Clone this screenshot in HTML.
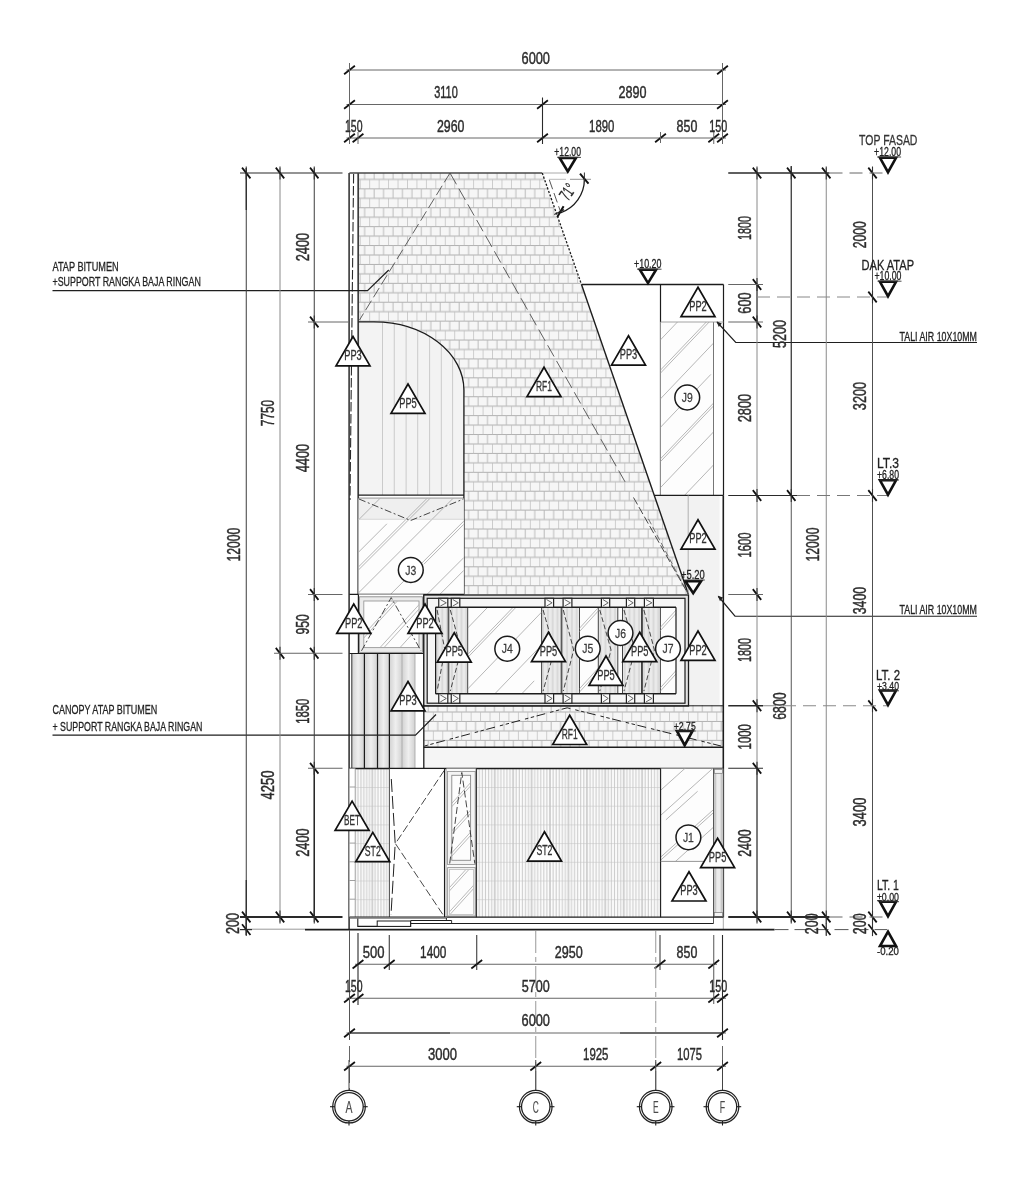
<!DOCTYPE html>
<html><head><meta charset="utf-8"><title>Tampak</title>
<style>
html,body{margin:0;padding:0;background:#fff;}
svg{display:block;}
text{font-family:"Liberation Sans",sans-serif;}
</style></head><body>
<svg width="1024" height="1196" viewBox="0 0 1024 1196">
<rect width="1024" height="1196" fill="#ffffff"/>
<g opacity="0.999">
<defs>
<pattern id="brick" x="482.6" y="179.4" width="9.449" height="18.898" patternUnits="userSpaceOnUse">
<rect width="9.449" height="18.898" fill="#f6f6f6"/>
<path d="M0,0.0H9.449M0,9.449H9.449M0,18.898H9.449" stroke="#b0b0b0" stroke-width="1" fill="none"/>
<path d="M0.2,0V9.449M4.92,9.449V18.898" stroke="#bcbcbc" stroke-width="1" fill="none"/>
</pattern>
<pattern id="brick2" x="442.3" y="712.0" width="9.449" height="18.898" patternUnits="userSpaceOnUse">
<rect width="9.449" height="18.898" fill="#f6f6f6"/>
<path d="M0,0.0H9.449M0,9.449H9.449M0,18.898H9.449" stroke="#b0b0b0" stroke-width="1" fill="none"/>
<path d="M0.2,0V9.449M4.92,9.449V18.898" stroke="#bcbcbc" stroke-width="1" fill="none"/>
</pattern>
<pattern id="stone" x="476.3" y="768.3" width="18.43" height="18.7" patternUnits="userSpaceOnUse">
<rect width="18.43" height="18.7" fill="#fcfcfc"/>
<path d="M3.072,0V18.7M6.143,0V18.7M9.215,0V18.7M12.287,0V18.7M15.358,0V18.7" stroke="#cdcdcd" stroke-width="1.1" fill="none"/>
<path d="M0,0V18.7M18.43,0V18.7" stroke="#b2b2b2" stroke-width="1.1" fill="none"/>
<path d="M0,0H18.43" stroke="#c2c2c2" stroke-width="1" fill="none"/>
</pattern>
<pattern id="stoneL" x="355.2" y="768.3" width="17.15" height="18.7" patternUnits="userSpaceOnUse">
<rect width="17.15" height="18.7" fill="#fcfcfc"/>
<path d="M2.858,0V18.7M5.717,0V18.7M8.575,0V18.7M11.433,0V18.7M14.292,0V18.7" stroke="#cdcdcd" stroke-width="1.1" fill="none"/>
<path d="M0,0V18.7M17.15,0V18.7" stroke="#b2b2b2" stroke-width="1.1" fill="none"/>
<path d="M0,0H17.15" stroke="#c2c2c2" stroke-width="1" fill="none"/>
</pattern>
<pattern id="slat" x="435.6" y="0" width="4.8" height="10" patternUnits="userSpaceOnUse">
<rect width="4.8" height="10" fill="#f3f3f3"/>
<rect x="0.6" width="2.3" height="10" fill="#d9d9d9"/>
<path d="M3.9,0V10" stroke="#dcdcdc" stroke-width="0.7" fill="none"/>
</pattern>
<clipPath id="cJ3"><rect x="358.5" y="520" width="105.3" height="74.5"/></clipPath>
<clipPath id="cJ9"><rect x="660.5" y="322" width="53" height="173"/></clipPath>
<clipPath id="cJ1"><rect x="660.6" y="768.4" width="52.9" height="93"/></clipPath>
<clipPath id="cJ4"><rect x="467.7" y="607.3" width="73.9" height="86.6"/></clipPath>
<clipPath id="cWin"><rect x="428" y="598.5" width="257" height="104"/></clipPath>
</defs>
<path d="M358.5,173 H542.25 L688.5,594.6 H463.9 V389.9 A90,68 0 0 0 373.9,321.9 H358.4 Z" fill="url(#brick)" stroke="none"/>
<path d="M358.4,321.9 H373.9 A90,68 0 0 1 463.9,389.9 V495 H358.4 Z" fill="#f3f3f3" stroke="none"/>
<line x1="382.50" y1="322.21" x2="382.50" y2="495.00" stroke="#cacaca" stroke-width="1.0"/>
<line x1="394.25" y1="323.66" x2="394.25" y2="495.00" stroke="#cacaca" stroke-width="1.0"/>
<line x1="406.10" y1="326.40" x2="406.10" y2="495.00" stroke="#cacaca" stroke-width="1.0"/>
<line x1="417.70" y1="330.50" x2="417.70" y2="495.00" stroke="#cacaca" stroke-width="1.0"/>
<line x1="429.60" y1="336.49" x2="429.60" y2="495.00" stroke="#cacaca" stroke-width="1.0"/>
<line x1="441.30" y1="344.84" x2="441.30" y2="495.00" stroke="#cacaca" stroke-width="1.0"/>
<line x1="452.60" y1="356.91" x2="452.60" y2="495.00" stroke="#cacaca" stroke-width="1.0"/>
<rect x="423.75" y="705.00" width="299.75" height="42.20" fill="url(#brick2)"/>
<rect x="423.75" y="747.20" width="298.25" height="21.20" fill="#f5f5f5"/>
<path d="M654.3,495.4 H719.6 V705 H688.5 V594.6 Z" fill="#f2f2f2" stroke="none"/>
<rect x="355.20" y="768.40" width="34.30" height="148.80" fill="url(#stoneL)"/>
<rect x="476.30" y="768.40" width="184.30" height="148.80" fill="url(#stone)"/>
<rect x="349.40" y="173.00" width="9.00" height="421.40" fill="#ffffff"/>
<line x1="349.10" y1="173.00" x2="349.10" y2="930.00" stroke="#2a2a2a" stroke-width="1.5"/>
<line x1="358.20" y1="173.00" x2="358.20" y2="594.40" stroke="#3c3c3c" stroke-width="1.7"/>
<line x1="353.60" y1="174.00" x2="350.00" y2="500.00" stroke="#2a2a2a" stroke-width="1.1" stroke-dasharray="9.5 2.5"/>
<line x1="349.40" y1="173.00" x2="542.25" y2="173.00" stroke="#484848" stroke-width="1.3"/>
<line x1="543.00" y1="173.00" x2="567.00" y2="173.00" stroke="#aaa" stroke-width="1.0"/>
<line x1="542.25" y1="173.00" x2="581.50" y2="284.50" stroke="#1c1c1c" stroke-width="1.3" stroke-dasharray="2.2 1.6"/>
<line x1="581.50" y1="284.50" x2="688.50" y2="594.60" stroke="#1c1c1c" stroke-width="1.4"/>
<line x1="549.30" y1="179.80" x2="560.40" y2="211.30" stroke="#444" stroke-width="0.9" stroke-dasharray="10 4"/>
<path d="M358.4,321.9 H373.9 A90,68 0 0 1 463.9,389.9 V594.4" fill="none" stroke="#1c1c1c" stroke-width="1.3"/>
<line x1="358.40" y1="495.10" x2="463.90" y2="495.10" stroke="#1c1c1c" stroke-width="1.3"/>
<line x1="358.40" y1="498.30" x2="463.90" y2="498.30" stroke="#1c1c1c" stroke-width="1.0"/>
<rect x="358.40" y="498.30" width="105.50" height="21.30" fill="#efefef"/>
<rect x="358.40" y="519.30" width="105.50" height="75.10" fill="#fdfdfd"/>
<clipPath id="cJ3b"><rect x="358.5" y="498.5" width="105.3" height="96"/></clipPath>
<g clip-path="url(#cJ3b)">
<line x1="358.40" y1="520.00" x2="463.90" y2="414.50" stroke="#a4a4a4" stroke-width="0.8"/>
<line x1="358.40" y1="552.30" x2="386.88" y2="523.81" stroke="#a4a4a4" stroke-width="0.8"/>
<line x1="358.40" y1="567.00" x2="463.90" y2="461.50" stroke="#a4a4a4" stroke-width="0.8"/>
<line x1="358.40" y1="570.00" x2="463.90" y2="464.50" stroke="#a4a4a4" stroke-width="0.8"/>
<line x1="358.40" y1="593.00" x2="463.90" y2="487.50" stroke="#a4a4a4" stroke-width="0.8"/>
<line x1="358.40" y1="626.50" x2="463.90" y2="521.00" stroke="#a4a4a4" stroke-width="0.8"/>
<line x1="423.81" y1="564.29" x2="463.90" y2="524.20" stroke="#a4a4a4" stroke-width="0.8"/>
<line x1="358.40" y1="663.00" x2="463.90" y2="557.50" stroke="#a4a4a4" stroke-width="0.8"/>
<line x1="358.40" y1="675.80" x2="463.90" y2="570.30" stroke="#a4a4a4" stroke-width="0.8"/>
</g>
<line x1="358.40" y1="519.30" x2="463.90" y2="519.30" stroke="#d0d0d0" stroke-width="0.8"/>
<polyline points="359.00,499.00 410.70,520.50 463.50,499.00" fill="none" stroke="#333" stroke-width="0.9" stroke-linejoin="miter" stroke-dasharray="7 2.5 2 2.5"/>
<line x1="349.40" y1="594.40" x2="463.90" y2="594.40" stroke="#1c1c1c" stroke-width="1.2"/>
<rect x="358.40" y="594.40" width="65.40" height="59.10" fill="#ffffff"/>
<line x1="358.40" y1="594.40" x2="358.40" y2="653.50" stroke="#1c1c1c" stroke-width="1.2"/>
<rect x="359.40" y="596.80" width="63.00" height="55.60" fill="#ebebeb" stroke="#888" stroke-width="0.9"/>
<rect x="363.80" y="601.00" width="55.20" height="46.60" fill="#fdfdfd" stroke="#999" stroke-width="0.9"/>
<clipPath id="cSm"><rect x="364" y="601.2" width="54.8" height="46.2"/></clipPath>
<g clip-path="url(#cSm)">
<line x1="352.00" y1="647.60" x2="394.36" y2="601.00" stroke="#a8a8a8" stroke-width="0.8"/>
<line x1="355.00" y1="647.60" x2="397.36" y2="601.00" stroke="#a8a8a8" stroke-width="0.8"/>
<line x1="380.00" y1="647.60" x2="422.36" y2="601.00" stroke="#a8a8a8" stroke-width="0.8"/>
<line x1="384.00" y1="647.60" x2="426.36" y2="601.00" stroke="#a8a8a8" stroke-width="0.8"/>
<line x1="400.00" y1="647.60" x2="421.18" y2="624.30" stroke="#a8a8a8" stroke-width="0.8"/>
</g>
<polyline points="361.50,650.80 391.20,597.60 421.00,650.80" fill="none" stroke="#333" stroke-width="0.9" stroke-linejoin="miter" stroke-dasharray="7 2.5 2 2.5"/>
<linearGradient id="sg" x1="0" x2="1" y1="0" y2="0"><stop offset="0" stop-color="#d2d2d2"/><stop offset="0.5" stop-color="#efefef"/><stop offset="1" stop-color="#d2d2d2"/></linearGradient>
<rect x="351.8" y="653.5" width="12.60" height="115" fill="url(#sg)"/>
<rect x="364.4" y="653.5" width="13.10" height="115" fill="url(#sg)"/>
<rect x="377.5" y="653.5" width="11.90" height="115" fill="url(#sg)"/>
<rect x="389.4" y="653.5" width="12.60" height="115" fill="url(#sg)"/>
<rect x="402.0" y="653.5" width="13.00" height="115" fill="url(#sg)"/>
<line x1="351.80" y1="653.50" x2="351.80" y2="768.50" stroke="#1c1c1c" stroke-width="0.9"/>
<line x1="364.40" y1="653.50" x2="364.40" y2="768.50" stroke="#1c1c1c" stroke-width="1.2"/>
<line x1="377.50" y1="653.50" x2="377.50" y2="768.50" stroke="#1c1c1c" stroke-width="1.2"/>
<line x1="389.40" y1="653.50" x2="389.40" y2="768.50" stroke="#1c1c1c" stroke-width="1.2"/>
<line x1="402.00" y1="653.50" x2="402.00" y2="768.50" stroke="#aaa" stroke-width="0.9"/>
<line x1="415.00" y1="653.50" x2="415.00" y2="768.50" stroke="#aaa" stroke-width="0.9"/>
<line x1="349.40" y1="653.50" x2="423.80" y2="653.50" stroke="#1c1c1c" stroke-width="1.2"/>
<line x1="423.80" y1="594.60" x2="423.80" y2="768.50" stroke="#1c1c1c" stroke-width="1.3"/>
<line x1="349.40" y1="768.50" x2="723.50" y2="768.50" stroke="#1c1c1c" stroke-width="1.4"/>
<rect x="423.80" y="595.00" width="264.70" height="111.00" fill="#e4e4e4" stroke="#1c1c1c" stroke-width="1.3"/>
<rect x="427.20" y="598.30" width="257.80" height="104.90" fill="#f6f6f6" stroke="#1c1c1c" stroke-width="1.2"/>
<rect x="435.60" y="607.30" width="240.40" height="86.40" fill="#fdfdfd"/>
<rect x="435.6" y="607.3" width="12.60" height="86.4" fill="url(#slat)"/>
<line x1="435.60" y1="607.30" x2="435.60" y2="693.70" stroke="#444" stroke-width="1.0"/>
<line x1="448.20" y1="607.30" x2="448.20" y2="693.70" stroke="#444" stroke-width="1.0"/>
<rect x="448.8" y="607.3" width="18.90" height="86.4" fill="url(#slat)"/>
<line x1="448.80" y1="607.30" x2="448.80" y2="693.70" stroke="#444" stroke-width="1.0"/>
<line x1="467.70" y1="607.30" x2="467.70" y2="693.70" stroke="#444" stroke-width="1.0"/>
<rect x="541.6" y="607.3" width="19.60" height="86.4" fill="url(#slat)"/>
<line x1="541.60" y1="607.30" x2="541.60" y2="693.70" stroke="#444" stroke-width="1.0"/>
<line x1="561.20" y1="607.30" x2="561.20" y2="693.70" stroke="#444" stroke-width="1.0"/>
<rect x="561.8" y="607.3" width="17.70" height="86.4" fill="url(#slat)"/>
<line x1="561.80" y1="607.30" x2="561.80" y2="693.70" stroke="#444" stroke-width="1.0"/>
<line x1="579.50" y1="607.30" x2="579.50" y2="693.70" stroke="#444" stroke-width="1.0"/>
<rect x="598.3" y="607.3" width="19.50" height="86.4" fill="url(#slat)"/>
<line x1="598.30" y1="607.30" x2="598.30" y2="693.70" stroke="#444" stroke-width="1.0"/>
<line x1="617.80" y1="607.30" x2="617.80" y2="693.70" stroke="#444" stroke-width="1.0"/>
<rect x="622.5" y="607.3" width="19.00" height="86.4" fill="url(#slat)"/>
<line x1="622.50" y1="607.30" x2="622.50" y2="693.70" stroke="#444" stroke-width="1.0"/>
<line x1="641.50" y1="607.30" x2="641.50" y2="693.70" stroke="#444" stroke-width="1.0"/>
<rect x="642.4" y="607.3" width="18.00" height="86.4" fill="url(#slat)"/>
<line x1="642.40" y1="607.30" x2="642.40" y2="693.70" stroke="#444" stroke-width="1.0"/>
<line x1="660.40" y1="607.30" x2="660.40" y2="693.70" stroke="#444" stroke-width="1.0"/>
<clipPath id="cG1"><rect x="467.7" y="607.3" width="73.9" height="86.4"/></clipPath>
<g clip-path="url(#cG1)">
<line x1="467.70" y1="628.00" x2="489.87" y2="604.94" stroke="#a4a4a4" stroke-width="0.8"/>
<line x1="467.70" y1="654.50" x2="541.60" y2="577.64" stroke="#a4a4a4" stroke-width="0.8"/>
<line x1="467.70" y1="657.50" x2="541.60" y2="580.64" stroke="#a4a4a4" stroke-width="0.8"/>
<line x1="467.70" y1="689.00" x2="541.60" y2="612.14" stroke="#a4a4a4" stroke-width="0.8"/>
<line x1="489.87" y1="698.94" x2="541.60" y2="645.14" stroke="#a4a4a4" stroke-width="0.8"/>
<line x1="504.65" y1="711.57" x2="534.21" y2="680.83" stroke="#a4a4a4" stroke-width="0.8"/>
</g>
<clipPath id="cG2"><rect x="579.5" y="607.3" width="18.8" height="86.4"/></clipPath>
<g clip-path="url(#cG2)">
<line x1="520.00" y1="693.70" x2="598.55" y2="607.30" stroke="#a8a8a8" stroke-width="0.8"/>
<line x1="523.00" y1="693.70" x2="601.55" y2="607.30" stroke="#a8a8a8" stroke-width="0.8"/>
<line x1="575.00" y1="693.70" x2="653.55" y2="607.30" stroke="#a8a8a8" stroke-width="0.8"/>
<line x1="578.00" y1="693.70" x2="656.55" y2="607.30" stroke="#a8a8a8" stroke-width="0.8"/>
</g>
<clipPath id="cG3"><rect x="660.4" y="607.3" width="15.6" height="86.4"/></clipPath>
<g clip-path="url(#cG3)">
<line x1="600.00" y1="693.70" x2="678.55" y2="607.30" stroke="#a8a8a8" stroke-width="0.8"/>
<line x1="603.00" y1="693.70" x2="681.55" y2="607.30" stroke="#a8a8a8" stroke-width="0.8"/>
<line x1="655.00" y1="693.70" x2="733.55" y2="607.30" stroke="#a8a8a8" stroke-width="0.8"/>
<line x1="658.00" y1="693.70" x2="736.55" y2="607.30" stroke="#a8a8a8" stroke-width="0.8"/>
</g>
<line x1="435.60" y1="607.30" x2="676.00" y2="607.30" stroke="#1c1c1c" stroke-width="1.4"/>
<line x1="435.60" y1="693.70" x2="676.00" y2="693.70" stroke="#1c1c1c" stroke-width="1.4"/>
<line x1="676.00" y1="607.30" x2="676.00" y2="693.70" stroke="#1c1c1c" stroke-width="1.2"/>
<line x1="435.60" y1="607.30" x2="435.60" y2="693.70" stroke="#1c1c1c" stroke-width="1.2"/>
<rect x="438.75" y="598.30" width="9.05" height="9.00" fill="#fafafa" stroke="#222" stroke-width="1.2"/>
<polyline points="440.25,599.50 446.30,602.80 440.25,606.10" fill="none" stroke="#555" stroke-width="0.9" stroke-linejoin="miter"/>
<rect x="438.75" y="693.70" width="9.05" height="9.50" fill="#fafafa" stroke="#222" stroke-width="1.2"/>
<polyline points="440.25,694.90 446.30,698.45 440.25,702.00" fill="none" stroke="#555" stroke-width="0.9" stroke-linejoin="miter"/>
<rect x="451.25" y="598.30" width="8.55" height="9.00" fill="#fafafa" stroke="#222" stroke-width="1.2"/>
<polyline points="452.75,599.50 458.30,602.80 452.75,606.10" fill="none" stroke="#555" stroke-width="0.9" stroke-linejoin="miter"/>
<rect x="451.25" y="693.70" width="8.55" height="9.50" fill="#fafafa" stroke="#222" stroke-width="1.2"/>
<polyline points="452.75,694.90 458.30,698.45 452.75,702.00" fill="none" stroke="#555" stroke-width="0.9" stroke-linejoin="miter"/>
<rect x="545.00" y="598.30" width="8.60" height="9.00" fill="#fafafa" stroke="#222" stroke-width="1.2"/>
<polyline points="546.50,599.50 552.10,602.80 546.50,606.10" fill="none" stroke="#555" stroke-width="0.9" stroke-linejoin="miter"/>
<rect x="545.00" y="693.70" width="8.60" height="9.50" fill="#fafafa" stroke="#222" stroke-width="1.2"/>
<polyline points="546.50,694.90 552.10,698.45 546.50,702.00" fill="none" stroke="#555" stroke-width="0.9" stroke-linejoin="miter"/>
<rect x="563.10" y="598.30" width="8.80" height="9.00" fill="#fafafa" stroke="#222" stroke-width="1.2"/>
<polyline points="564.60,599.50 570.40,602.80 564.60,606.10" fill="none" stroke="#555" stroke-width="0.9" stroke-linejoin="miter"/>
<rect x="563.10" y="693.70" width="8.80" height="9.50" fill="#fafafa" stroke="#222" stroke-width="1.2"/>
<polyline points="564.60,694.90 570.40,698.45 564.60,702.00" fill="none" stroke="#555" stroke-width="0.9" stroke-linejoin="miter"/>
<rect x="601.40" y="598.30" width="8.30" height="9.00" fill="#fafafa" stroke="#222" stroke-width="1.2"/>
<polyline points="602.90,599.50 608.20,602.80 602.90,606.10" fill="none" stroke="#555" stroke-width="0.9" stroke-linejoin="miter"/>
<rect x="601.40" y="693.70" width="8.30" height="9.50" fill="#fafafa" stroke="#222" stroke-width="1.2"/>
<polyline points="602.90,694.90 608.20,698.45 602.90,702.00" fill="none" stroke="#555" stroke-width="0.9" stroke-linejoin="miter"/>
<rect x="626.40" y="598.30" width="8.30" height="9.00" fill="#fafafa" stroke="#222" stroke-width="1.2"/>
<polyline points="627.90,599.50 633.20,602.80 627.90,606.10" fill="none" stroke="#555" stroke-width="0.9" stroke-linejoin="miter"/>
<rect x="626.40" y="693.70" width="8.30" height="9.50" fill="#fafafa" stroke="#222" stroke-width="1.2"/>
<polyline points="627.90,694.90 633.20,698.45 627.90,702.00" fill="none" stroke="#555" stroke-width="0.9" stroke-linejoin="miter"/>
<rect x="644.40" y="598.30" width="9.00" height="9.00" fill="#fafafa" stroke="#222" stroke-width="1.2"/>
<polyline points="645.90,599.50 651.90,602.80 645.90,606.10" fill="none" stroke="#555" stroke-width="0.9" stroke-linejoin="miter"/>
<rect x="644.40" y="693.70" width="9.00" height="9.50" fill="#fafafa" stroke="#222" stroke-width="1.2"/>
<polyline points="645.90,694.90 651.90,698.45 645.90,702.00" fill="none" stroke="#555" stroke-width="0.9" stroke-linejoin="miter"/>
<polyline points="437.10,610.00 444.90,650.00 437.10,691.00" fill="none" stroke="#333" stroke-width="0.9" stroke-linejoin="miter" stroke-dasharray="5 2.5"/>
<polyline points="450.30,610.00 461.25,650.00 450.30,691.00" fill="none" stroke="#333" stroke-width="0.9" stroke-linejoin="miter" stroke-dasharray="5 2.5"/>
<polyline points="543.10,610.00 554.40,650.00 543.10,691.00" fill="none" stroke="#333" stroke-width="0.9" stroke-linejoin="miter" stroke-dasharray="5 2.5"/>
<polyline points="563.30,610.00 573.65,650.00 563.30,691.00" fill="none" stroke="#333" stroke-width="0.9" stroke-linejoin="miter" stroke-dasharray="5 2.5"/>
<polyline points="599.80,610.00 611.05,650.00 599.80,691.00" fill="none" stroke="#333" stroke-width="0.9" stroke-linejoin="miter" stroke-dasharray="5 2.5"/>
<polyline points="624.00,610.00 635.00,650.00 624.00,691.00" fill="none" stroke="#333" stroke-width="0.9" stroke-linejoin="miter" stroke-dasharray="5 2.5"/>
<polyline points="643.90,610.00 654.40,650.00 643.90,691.00" fill="none" stroke="#333" stroke-width="0.9" stroke-linejoin="miter" stroke-dasharray="5 2.5"/>
<line x1="581.50" y1="284.50" x2="723.50" y2="284.50" stroke="#1c1c1c" stroke-width="1.3"/>
<line x1="723.50" y1="284.50" x2="723.50" y2="495.40" stroke="#1c1c1c" stroke-width="1.2"/>
<line x1="660.50" y1="284.50" x2="660.50" y2="495.40" stroke="#1c1c1c" stroke-width="1.2"/>
<rect x="660.50" y="322.00" width="53.00" height="173.40" fill="#fdfdfd"/>
<g clip-path="url(#cJ9)">
<line x1="660.30" y1="340.00" x2="713.50" y2="284.14" stroke="#a4a4a4" stroke-width="0.8"/>
<line x1="660.30" y1="370.30" x2="713.50" y2="314.44" stroke="#a4a4a4" stroke-width="0.8"/>
<line x1="660.30" y1="373.30" x2="713.50" y2="317.44" stroke="#a4a4a4" stroke-width="0.8"/>
<line x1="660.30" y1="399.00" x2="713.50" y2="343.14" stroke="#a4a4a4" stroke-width="0.8"/>
<line x1="660.30" y1="427.50" x2="710.84" y2="374.43" stroke="#a4a4a4" stroke-width="0.8"/>
<line x1="660.30" y1="459.00" x2="713.50" y2="403.14" stroke="#a4a4a4" stroke-width="0.8"/>
<line x1="660.30" y1="461.80" x2="713.50" y2="405.94" stroke="#a4a4a4" stroke-width="0.8"/>
<line x1="660.30" y1="487.80" x2="713.50" y2="431.94" stroke="#a4a4a4" stroke-width="0.8"/>
<line x1="660.30" y1="520.80" x2="713.50" y2="464.94" stroke="#a4a4a4" stroke-width="0.8"/>
</g>
<line x1="713.50" y1="322.00" x2="713.50" y2="495.40" stroke="#666" stroke-width="0.9"/>
<line x1="660.50" y1="322.00" x2="723.50" y2="322.00" stroke="#999" stroke-width="0.9"/>
<line x1="654.30" y1="495.40" x2="723.50" y2="495.40" stroke="#1c1c1c" stroke-width="1.3"/>
<line x1="688.20" y1="495.40" x2="688.20" y2="594.60" stroke="#aaa" stroke-width="0.9"/>
<line x1="723.30" y1="495.40" x2="723.30" y2="917.60" stroke="#1c1c1c" stroke-width="1.6"/>
<line x1="723.30" y1="917.60" x2="723.30" y2="930.00" stroke="#aaa" stroke-width="1.0"/>
<line x1="423.80" y1="705.80" x2="723.50" y2="705.80" stroke="#1c1c1c" stroke-width="1.0"/>
<line x1="423.80" y1="747.20" x2="723.50" y2="747.20" stroke="#1c1c1c" stroke-width="1.4"/>
<polyline points="424.50,746.00 567.20,707.80 721.00,746.00" fill="none" stroke="#222" stroke-width="1.0" stroke-linejoin="miter" stroke-dasharray="3.5 2.5 3.5 2.5 9 5"/>
<rect x="349.40" y="768.50" width="5.80" height="148.70" fill="#ffffff"/>
<line x1="355.20" y1="768.50" x2="355.20" y2="917.20" stroke="#999" stroke-width="0.8"/>
<line x1="349.40" y1="787.00" x2="355.20" y2="787.00" stroke="#888" stroke-width="0.8"/>
<line x1="349.40" y1="805.70" x2="355.20" y2="805.70" stroke="#888" stroke-width="0.8"/>
<line x1="349.40" y1="824.40" x2="355.20" y2="824.40" stroke="#888" stroke-width="0.8"/>
<line x1="349.40" y1="843.10" x2="355.20" y2="843.10" stroke="#888" stroke-width="0.8"/>
<line x1="349.40" y1="861.80" x2="355.20" y2="861.80" stroke="#888" stroke-width="0.8"/>
<line x1="349.40" y1="880.50" x2="355.20" y2="880.50" stroke="#888" stroke-width="0.8"/>
<line x1="349.40" y1="899.20" x2="355.20" y2="899.20" stroke="#888" stroke-width="0.8"/>
<line x1="389.50" y1="768.50" x2="389.50" y2="917.20" stroke="#4a4a4a" stroke-width="1.1"/>
<rect x="389.90" y="769.10" width="54.60" height="148.10" fill="#ffffff"/>
<polyline points="391.30,779.00 395.20,843.60 391.00,915.00" fill="none" stroke="#222" stroke-width="1.0" stroke-linejoin="miter" stroke-dasharray="13 4"/>
<polyline points="444.20,770.50 395.40,843.60 444.20,916.50" fill="none" stroke="#333" stroke-width="0.9" stroke-linejoin="miter" stroke-dasharray="8 3"/>
<line x1="444.50" y1="768.50" x2="444.50" y2="917.20" stroke="#1c1c1c" stroke-width="1.1"/>
<line x1="446.30" y1="768.50" x2="446.30" y2="917.20" stroke="#1c1c1c" stroke-width="0.9"/>
<rect x="446.30" y="768.50" width="30.00" height="148.70" fill="#fafafa"/>
<rect x="447.50" y="771.50" width="27.70" height="93.00" fill="#f4f4f4" stroke="#999" stroke-width="0.9"/>
<rect x="451.80" y="775.30" width="18.80" height="85.00" fill="#fdfdfd" stroke="#888" stroke-width="0.9"/>
<clipPath id="cN1"><rect x="452" y="775.5" width="18.4" height="84.6"/></clipPath>
<g clip-path="url(#cN1)">
<line x1="400.00" y1="860.30" x2="477.27" y2="775.30" stroke="#a8a8a8" stroke-width="0.8"/>
<line x1="403.00" y1="860.30" x2="480.27" y2="775.30" stroke="#a8a8a8" stroke-width="0.8"/>
<line x1="425.00" y1="860.30" x2="502.27" y2="775.30" stroke="#a8a8a8" stroke-width="0.8"/>
<line x1="428.00" y1="860.30" x2="505.27" y2="775.30" stroke="#a8a8a8" stroke-width="0.8"/>
<line x1="445.00" y1="860.30" x2="522.27" y2="775.30" stroke="#a8a8a8" stroke-width="0.8"/>
<line x1="448.00" y1="860.30" x2="525.27" y2="775.30" stroke="#a8a8a8" stroke-width="0.8"/>
</g>
<polyline points="449.70,863.50 461.80,772.50 474.80,863.50" fill="none" stroke="#333" stroke-width="0.9" stroke-linejoin="miter" stroke-dasharray="7 3"/>
<rect x="447.60" y="867.60" width="27.60" height="48.40" fill="#f4f4f4" stroke="#999" stroke-width="0.9"/>
<rect x="449.50" y="869.50" width="24.00" height="45.00" fill="#fdfdfd" stroke="#bbb" stroke-width="0.8"/>
<clipPath id="cN2"><rect x="449.7" y="869.7" width="23.6" height="44.6"/></clipPath>
<g clip-path="url(#cN2)">
<line x1="425.00" y1="914.50" x2="465.91" y2="869.50" stroke="#a8a8a8" stroke-width="0.8"/>
<line x1="428.00" y1="914.50" x2="468.91" y2="869.50" stroke="#a8a8a8" stroke-width="0.8"/>
<line x1="447.00" y1="914.50" x2="487.91" y2="869.50" stroke="#a8a8a8" stroke-width="0.8"/>
<line x1="450.00" y1="914.50" x2="490.91" y2="869.50" stroke="#a8a8a8" stroke-width="0.8"/>
</g>
<line x1="476.30" y1="768.50" x2="476.30" y2="917.20" stroke="#1c1c1c" stroke-width="1.1"/>
<rect x="660.60" y="768.50" width="52.90" height="92.90" fill="#fdfdfd"/>
<g clip-path="url(#cJ1)">
<line x1="660.60" y1="790.30" x2="687.05" y2="766.50" stroke="#a4a4a4" stroke-width="0.8"/>
<line x1="660.60" y1="815.40" x2="713.50" y2="767.79" stroke="#a4a4a4" stroke-width="0.8"/>
<line x1="665.89" y1="819.84" x2="697.63" y2="791.27" stroke="#a4a4a4" stroke-width="0.8"/>
<line x1="660.60" y1="857.20" x2="713.50" y2="809.59" stroke="#a4a4a4" stroke-width="0.8"/>
<line x1="660.60" y1="860.20" x2="713.50" y2="812.59" stroke="#a4a4a4" stroke-width="0.8"/>
<line x1="660.60" y1="874.80" x2="713.50" y2="827.19" stroke="#a4a4a4" stroke-width="0.8"/>
<line x1="660.60" y1="905.00" x2="713.50" y2="857.39" stroke="#a4a4a4" stroke-width="0.8"/>
</g>
<rect x="660.60" y="861.40" width="52.90" height="55.80" fill="#ffffff"/>
<line x1="660.60" y1="768.50" x2="660.60" y2="917.20" stroke="#1c1c1c" stroke-width="1.1"/>
<line x1="660.60" y1="861.40" x2="713.50" y2="861.40" stroke="#888" stroke-width="0.9"/>
<rect x="713.50" y="768.50" width="9.80" height="148.70" fill="#c8c8c8"/>
<rect x="716.30" y="773.50" width="4.30" height="138.80" fill="#ececec"/>
<line x1="713.50" y1="768.50" x2="713.50" y2="923.50" stroke="#555" stroke-width="1.0"/>
<rect x="714.30" y="769.30" width="8.20" height="4.00" fill="#f4f4f4" stroke="#777" stroke-width="0.7"/>
<rect x="714.30" y="912.50" width="8.20" height="4.00" fill="#f4f4f4" stroke="#777" stroke-width="0.7"/>
<line x1="349.40" y1="917.20" x2="723.30" y2="917.20" stroke="#1c1c1c" stroke-width="1.2"/>
<polyline points="357.80,917.60 357.80,926.40 410.60,926.40 410.60,921.00" fill="none" stroke="#1c1c1c" stroke-width="1.1" stroke-linejoin="miter"/>
<rect x="377.20" y="921.00" width="33.40" height="5.40" fill="#ffffff" stroke="#1c1c1c" stroke-width="1.0"/>
<line x1="349.80" y1="917.90" x2="447.00" y2="917.90" stroke="#777" stroke-width="1.6"/>
<line x1="410.60" y1="920.50" x2="451.60" y2="920.50" stroke="#1c1c1c" stroke-width="1.0"/>
<line x1="446.40" y1="918.00" x2="446.40" y2="921.00" stroke="#1c1c1c" stroke-width="0.9"/>
<line x1="451.60" y1="920.50" x2="451.60" y2="923.50" stroke="#1c1c1c" stroke-width="0.9"/>
<line x1="410.60" y1="923.50" x2="713.50" y2="923.50" stroke="#1c1c1c" stroke-width="1.0"/>
<line x1="305.00" y1="929.60" x2="774.50" y2="929.60" stroke="#1c1c1c" stroke-width="1.8"/>
<line x1="774.50" y1="929.60" x2="887.00" y2="929.60" stroke="#555" stroke-width="1.0" stroke-dasharray="14 6"/>
<line x1="450.00" y1="173.00" x2="359.50" y2="320.00" stroke="#444" stroke-width="0.85" stroke-dasharray="11 4"/>
<line x1="450.00" y1="173.00" x2="626.00" y2="483.50" stroke="#444" stroke-width="0.85" stroke-dasharray="13 5"/>
<line x1="633.50" y1="497.50" x2="688.30" y2="594.30" stroke="#333" stroke-width="0.9" stroke-dasharray="8 3"/>
<line x1="648.50" y1="519.00" x2="688.30" y2="594.30" stroke="#555" stroke-width="0.8" stroke-dasharray="6 3"/>
<polyline points="52.50,290.60 367.50,290.60 388.75,270.00" fill="none" stroke="#1f1f1f" stroke-width="1.2" stroke-linejoin="miter"/>
<polyline points="52.50,735.20 415.50,735.20 436.00,714.50" fill="none" stroke="#1f1f1f" stroke-width="1.2" stroke-linejoin="miter"/>
<polyline points="717.00,322.00 735.75,342.50 977.00,342.50" fill="none" stroke="#1f1f1f" stroke-width="1.2" stroke-linejoin="miter"/>
<polyline points="718.25,596.25 735.00,616.25 977.00,616.25" fill="none" stroke="#1f1f1f" stroke-width="1.2" stroke-linejoin="miter"/>
<polygon points="716.60,321.60 721.80,323.40 718.80,327.00" fill="#222"/>
<polygon points="717.80,595.80 723.00,597.60 720.00,601.20" fill="#222"/>
<line x1="346.50" y1="70.00" x2="726.00" y2="70.00" stroke="#666666" stroke-width="1.0"/>
<line x1="344.10" y1="74.20" x2="354.90" y2="65.80" stroke="#111" stroke-width="1.75"/>
<line x1="717.10" y1="74.20" x2="727.90" y2="65.80" stroke="#111" stroke-width="1.75"/>
<line x1="346.50" y1="104.50" x2="726.00" y2="104.50" stroke="#666666" stroke-width="1.0"/>
<line x1="344.10" y1="108.70" x2="354.90" y2="100.30" stroke="#111" stroke-width="1.75"/>
<line x1="537.10" y1="108.70" x2="547.90" y2="100.30" stroke="#111" stroke-width="1.75"/>
<line x1="717.10" y1="108.70" x2="727.90" y2="100.30" stroke="#111" stroke-width="1.75"/>
<line x1="346.50" y1="138.00" x2="726.00" y2="138.00" stroke="#666666" stroke-width="1.0"/>
<line x1="344.10" y1="142.20" x2="354.90" y2="133.80" stroke="#111" stroke-width="1.75"/>
<line x1="352.60" y1="142.20" x2="363.40" y2="133.80" stroke="#111" stroke-width="1.75"/>
<line x1="537.10" y1="142.20" x2="547.90" y2="133.80" stroke="#111" stroke-width="1.75"/>
<line x1="655.10" y1="142.20" x2="665.90" y2="133.80" stroke="#111" stroke-width="1.75"/>
<line x1="708.35" y1="142.20" x2="719.15" y2="133.80" stroke="#111" stroke-width="1.75"/>
<line x1="717.10" y1="142.20" x2="727.90" y2="133.80" stroke="#111" stroke-width="1.75"/>
<line x1="349.50" y1="63.00" x2="349.50" y2="144.00" stroke="#666666" stroke-width="1.0"/>
<line x1="722.50" y1="63.00" x2="722.50" y2="144.00" stroke="#666666" stroke-width="1.0"/>
<line x1="542.50" y1="97.50" x2="542.50" y2="144.00" stroke="#2a2a2a" stroke-width="1.1"/>
<line x1="358.00" y1="132.00" x2="358.00" y2="144.00" stroke="#666666" stroke-width="1.0"/>
<line x1="660.50" y1="132.00" x2="660.50" y2="143.00" stroke="#666666" stroke-width="1.0"/>
<line x1="713.75" y1="130.00" x2="713.75" y2="144.00" stroke="#666666" stroke-width="1.0"/>
<line x1="246.25" y1="168.00" x2="246.25" y2="935.00" stroke="#3c3c3c" stroke-width="1.0"/>
<line x1="246.25" y1="168.00" x2="246.25" y2="210.00" stroke="#2a2a2a" stroke-width="1.2"/>
<line x1="246.25" y1="880.00" x2="246.25" y2="935.00" stroke="#2a2a2a" stroke-width="1.2"/>
<line x1="280.00" y1="168.00" x2="280.00" y2="922.00" stroke="#8a8a8a" stroke-width="1.0"/>
<line x1="314.25" y1="168.00" x2="314.25" y2="922.00" stroke="#3c3c3c" stroke-width="1.0"/>
<line x1="314.25" y1="768.25" x2="314.25" y2="917.00" stroke="#222" stroke-width="1.3"/>
<line x1="245.00" y1="929.20" x2="305.00" y2="929.20" stroke="#999" stroke-width="1.0"/>
<line x1="242.05" y1="167.60" x2="250.45" y2="178.40" stroke="#111" stroke-width="1.75"/>
<line x1="246.25" y1="166.50" x2="246.25" y2="179.50" stroke="#333" stroke-width="1.1"/>
<line x1="242.05" y1="911.60" x2="250.45" y2="922.40" stroke="#111" stroke-width="1.75"/>
<line x1="246.25" y1="910.50" x2="246.25" y2="923.50" stroke="#333" stroke-width="1.1"/>
<line x1="242.05" y1="924.20" x2="250.45" y2="935.00" stroke="#111" stroke-width="1.75"/>
<line x1="246.25" y1="923.10" x2="246.25" y2="936.10" stroke="#333" stroke-width="1.1"/>
<line x1="275.80" y1="167.60" x2="284.20" y2="178.40" stroke="#111" stroke-width="1.75"/>
<line x1="280.00" y1="166.50" x2="280.00" y2="179.50" stroke="#333" stroke-width="1.1"/>
<line x1="275.80" y1="647.85" x2="284.20" y2="658.65" stroke="#111" stroke-width="1.75"/>
<line x1="280.00" y1="646.75" x2="280.00" y2="659.75" stroke="#333" stroke-width="1.1"/>
<line x1="275.80" y1="911.60" x2="284.20" y2="922.40" stroke="#111" stroke-width="1.75"/>
<line x1="280.00" y1="910.50" x2="280.00" y2="923.50" stroke="#333" stroke-width="1.1"/>
<line x1="310.05" y1="167.60" x2="318.45" y2="178.40" stroke="#111" stroke-width="1.75"/>
<line x1="314.25" y1="166.50" x2="314.25" y2="179.50" stroke="#333" stroke-width="1.1"/>
<line x1="310.05" y1="316.60" x2="318.45" y2="327.40" stroke="#111" stroke-width="1.75"/>
<line x1="314.25" y1="315.50" x2="314.25" y2="328.50" stroke="#333" stroke-width="1.1"/>
<line x1="310.05" y1="589.10" x2="318.45" y2="599.90" stroke="#111" stroke-width="1.75"/>
<line x1="314.25" y1="588.00" x2="314.25" y2="601.00" stroke="#333" stroke-width="1.1"/>
<line x1="310.05" y1="647.85" x2="318.45" y2="658.65" stroke="#111" stroke-width="1.75"/>
<line x1="314.25" y1="646.75" x2="314.25" y2="659.75" stroke="#333" stroke-width="1.1"/>
<line x1="310.05" y1="762.85" x2="318.45" y2="773.65" stroke="#111" stroke-width="1.75"/>
<line x1="314.25" y1="761.75" x2="314.25" y2="774.75" stroke="#333" stroke-width="1.1"/>
<line x1="310.05" y1="911.60" x2="318.45" y2="922.40" stroke="#111" stroke-width="1.75"/>
<line x1="314.25" y1="910.50" x2="314.25" y2="923.50" stroke="#333" stroke-width="1.1"/>
<line x1="240.00" y1="173.00" x2="342.50" y2="173.00" stroke="#2a2a2a" stroke-width="1.2"/>
<line x1="308.00" y1="322.00" x2="348.80" y2="322.00" stroke="#666666" stroke-width="1.0"/>
<line x1="308.00" y1="594.50" x2="342.50" y2="594.50" stroke="#666666" stroke-width="1.0"/>
<line x1="274.00" y1="653.25" x2="342.50" y2="653.25" stroke="#666666" stroke-width="1.0"/>
<line x1="308.00" y1="768.25" x2="342.50" y2="768.25" stroke="#666666" stroke-width="1.0"/>
<line x1="240.00" y1="917.00" x2="342.50" y2="917.00" stroke="#2a2a2a" stroke-width="1.8"/>
<line x1="240.00" y1="929.60" x2="252.00" y2="929.60" stroke="#2a2a2a" stroke-width="1.2"/>
<line x1="757.00" y1="168.00" x2="757.00" y2="922.00" stroke="#8a8a8a" stroke-width="1.0"/>
<line x1="791.25" y1="166.00" x2="791.25" y2="495.50" stroke="#2a2a2a" stroke-width="1.2"/>
<line x1="757.00" y1="768.25" x2="757.00" y2="917.00" stroke="#333" stroke-width="1.0"/>
<line x1="757.00" y1="284.50" x2="757.00" y2="322.00" stroke="#333" stroke-width="1.0"/>
<line x1="791.25" y1="495.50" x2="791.25" y2="922.00" stroke="#555" stroke-width="1.0"/>
<line x1="826.25" y1="168.00" x2="826.25" y2="935.00" stroke="#8a8a8a" stroke-width="1.0"/>
<line x1="872.50" y1="168.00" x2="872.50" y2="935.00" stroke="#505050" stroke-width="1.0"/>
<line x1="752.80" y1="167.60" x2="761.20" y2="178.40" stroke="#111" stroke-width="1.75"/>
<line x1="757.00" y1="166.50" x2="757.00" y2="179.50" stroke="#333" stroke-width="1.1"/>
<line x1="752.80" y1="279.10" x2="761.20" y2="289.90" stroke="#111" stroke-width="1.75"/>
<line x1="757.00" y1="278.00" x2="757.00" y2="291.00" stroke="#333" stroke-width="1.1"/>
<line x1="752.80" y1="316.60" x2="761.20" y2="327.40" stroke="#111" stroke-width="1.75"/>
<line x1="757.00" y1="315.50" x2="757.00" y2="328.50" stroke="#333" stroke-width="1.1"/>
<line x1="752.80" y1="490.10" x2="761.20" y2="500.90" stroke="#111" stroke-width="1.75"/>
<line x1="757.00" y1="489.00" x2="757.00" y2="502.00" stroke="#333" stroke-width="1.1"/>
<line x1="752.80" y1="589.10" x2="761.20" y2="599.90" stroke="#111" stroke-width="1.75"/>
<line x1="757.00" y1="588.00" x2="757.00" y2="601.00" stroke="#333" stroke-width="1.1"/>
<line x1="752.80" y1="700.35" x2="761.20" y2="711.15" stroke="#111" stroke-width="1.75"/>
<line x1="757.00" y1="699.25" x2="757.00" y2="712.25" stroke="#333" stroke-width="1.1"/>
<line x1="752.80" y1="762.85" x2="761.20" y2="773.65" stroke="#111" stroke-width="1.75"/>
<line x1="757.00" y1="761.75" x2="757.00" y2="774.75" stroke="#333" stroke-width="1.1"/>
<line x1="752.80" y1="911.60" x2="761.20" y2="922.40" stroke="#111" stroke-width="1.75"/>
<line x1="757.00" y1="910.50" x2="757.00" y2="923.50" stroke="#333" stroke-width="1.1"/>
<line x1="787.05" y1="167.60" x2="795.45" y2="178.40" stroke="#111" stroke-width="1.75"/>
<line x1="791.25" y1="166.50" x2="791.25" y2="179.50" stroke="#333" stroke-width="1.1"/>
<line x1="787.05" y1="490.10" x2="795.45" y2="500.90" stroke="#111" stroke-width="1.75"/>
<line x1="791.25" y1="489.00" x2="791.25" y2="502.00" stroke="#333" stroke-width="1.1"/>
<line x1="787.05" y1="911.60" x2="795.45" y2="922.40" stroke="#111" stroke-width="1.75"/>
<line x1="791.25" y1="910.50" x2="791.25" y2="923.50" stroke="#333" stroke-width="1.1"/>
<line x1="822.05" y1="167.60" x2="830.45" y2="178.40" stroke="#111" stroke-width="1.75"/>
<line x1="826.25" y1="166.50" x2="826.25" y2="179.50" stroke="#333" stroke-width="1.1"/>
<line x1="822.05" y1="911.60" x2="830.45" y2="922.40" stroke="#111" stroke-width="1.75"/>
<line x1="826.25" y1="910.50" x2="826.25" y2="923.50" stroke="#333" stroke-width="1.1"/>
<line x1="822.05" y1="924.20" x2="830.45" y2="935.00" stroke="#111" stroke-width="1.75"/>
<line x1="826.25" y1="923.10" x2="826.25" y2="936.10" stroke="#333" stroke-width="1.1"/>
<line x1="868.30" y1="167.60" x2="876.70" y2="178.40" stroke="#111" stroke-width="1.75"/>
<line x1="872.50" y1="166.50" x2="872.50" y2="179.50" stroke="#333" stroke-width="1.1"/>
<line x1="868.30" y1="291.60" x2="876.70" y2="302.40" stroke="#111" stroke-width="1.75"/>
<line x1="872.50" y1="290.50" x2="872.50" y2="303.50" stroke="#333" stroke-width="1.1"/>
<line x1="868.30" y1="490.10" x2="876.70" y2="500.90" stroke="#111" stroke-width="1.75"/>
<line x1="872.50" y1="489.00" x2="872.50" y2="502.00" stroke="#333" stroke-width="1.1"/>
<line x1="868.30" y1="700.35" x2="876.70" y2="711.15" stroke="#111" stroke-width="1.75"/>
<line x1="872.50" y1="699.25" x2="872.50" y2="712.25" stroke="#333" stroke-width="1.1"/>
<line x1="868.30" y1="911.60" x2="876.70" y2="922.40" stroke="#111" stroke-width="1.75"/>
<line x1="872.50" y1="910.50" x2="872.50" y2="923.50" stroke="#333" stroke-width="1.1"/>
<line x1="868.30" y1="924.20" x2="876.70" y2="935.00" stroke="#111" stroke-width="1.75"/>
<line x1="872.50" y1="923.10" x2="872.50" y2="936.10" stroke="#333" stroke-width="1.1"/>
<line x1="728.25" y1="173.00" x2="829.50" y2="173.00" stroke="#2a2a2a" stroke-width="1.3"/>
<line x1="829.50" y1="173.00" x2="887.00" y2="173.00" stroke="#666" stroke-width="1.0" stroke-dasharray="13 7"/>
<line x1="728.25" y1="284.50" x2="763.00" y2="284.50" stroke="#666666" stroke-width="1.0"/>
<line x1="728.25" y1="322.00" x2="763.00" y2="322.00" stroke="#666666" stroke-width="1.0"/>
<line x1="757.00" y1="297.00" x2="887.00" y2="297.00" stroke="#888" stroke-width="1.0" stroke-dasharray="13 7"/>
<line x1="728.25" y1="495.50" x2="797.00" y2="495.50" stroke="#2a2a2a" stroke-width="1.2"/>
<line x1="797.00" y1="495.50" x2="887.00" y2="495.50" stroke="#777" stroke-width="1.0" stroke-dasharray="13 7"/>
<line x1="728.25" y1="594.50" x2="763.00" y2="594.50" stroke="#666666" stroke-width="1.0"/>
<line x1="728.25" y1="705.75" x2="763.00" y2="705.75" stroke="#2a2a2a" stroke-width="1.4"/>
<line x1="763.00" y1="705.75" x2="887.00" y2="705.75" stroke="#888" stroke-width="1.0" stroke-dasharray="13 7"/>
<line x1="728.25" y1="768.25" x2="763.00" y2="768.25" stroke="#2a2a2a" stroke-width="1.2"/>
<line x1="728.25" y1="917.00" x2="829.50" y2="917.00" stroke="#2a2a2a" stroke-width="1.8"/>
<line x1="829.50" y1="917.00" x2="887.00" y2="917.00" stroke="#666" stroke-width="1.0" stroke-dasharray="13 7"/>
<line x1="355.00" y1="964.25" x2="717.00" y2="964.25" stroke="#666666" stroke-width="1.0"/>
<line x1="352.60" y1="968.45" x2="363.40" y2="960.05" stroke="#111" stroke-width="1.75"/>
<line x1="383.85" y1="968.45" x2="394.65" y2="960.05" stroke="#111" stroke-width="1.75"/>
<line x1="471.35" y1="968.45" x2="482.15" y2="960.05" stroke="#111" stroke-width="1.75"/>
<line x1="654.60" y1="968.45" x2="665.40" y2="960.05" stroke="#111" stroke-width="1.75"/>
<line x1="708.35" y1="968.45" x2="719.15" y2="960.05" stroke="#111" stroke-width="1.75"/>
<line x1="346.50" y1="998.25" x2="726.00" y2="998.25" stroke="#666666" stroke-width="1.0"/>
<line x1="344.10" y1="1002.45" x2="354.90" y2="994.05" stroke="#111" stroke-width="1.75"/>
<line x1="352.60" y1="1002.45" x2="363.40" y2="994.05" stroke="#111" stroke-width="1.75"/>
<line x1="708.35" y1="1002.45" x2="719.15" y2="994.05" stroke="#111" stroke-width="1.75"/>
<line x1="717.10" y1="1002.45" x2="727.90" y2="994.05" stroke="#111" stroke-width="1.75"/>
<line x1="346.50" y1="1033.00" x2="726.00" y2="1033.00" stroke="#666666" stroke-width="1.0"/>
<line x1="349.50" y1="1033.00" x2="450.00" y2="1033.00" stroke="#2a2a2a" stroke-width="1.1"/>
<line x1="620.00" y1="1033.00" x2="722.50" y2="1033.00" stroke="#2a2a2a" stroke-width="1.1"/>
<line x1="344.10" y1="1037.20" x2="354.90" y2="1028.80" stroke="#111" stroke-width="1.75"/>
<line x1="717.10" y1="1037.20" x2="727.90" y2="1028.80" stroke="#111" stroke-width="1.75"/>
<line x1="346.50" y1="1066.25" x2="726.00" y2="1066.25" stroke="#666666" stroke-width="1.0"/>
<line x1="344.10" y1="1070.45" x2="354.90" y2="1062.05" stroke="#111" stroke-width="1.75"/>
<line x1="530.35" y1="1070.45" x2="541.15" y2="1062.05" stroke="#111" stroke-width="1.75"/>
<line x1="650.35" y1="1070.45" x2="661.15" y2="1062.05" stroke="#111" stroke-width="1.75"/>
<line x1="717.10" y1="1070.45" x2="727.90" y2="1062.05" stroke="#111" stroke-width="1.75"/>
<line x1="349.50" y1="930.00" x2="349.50" y2="1040.00" stroke="#555" stroke-width="1.0"/>
<line x1="349.50" y1="1046.00" x2="349.50" y2="1090.00" stroke="#666666" stroke-width="1.0" stroke-dasharray="16 5"/>
<line x1="358.00" y1="933.00" x2="358.00" y2="1005.00" stroke="#2a2a2a" stroke-width="1.1"/>
<line x1="389.25" y1="935.00" x2="389.25" y2="970.00" stroke="#2a2a2a" stroke-width="1.0"/>
<line x1="476.75" y1="935.00" x2="476.75" y2="970.00" stroke="#2a2a2a" stroke-width="1.0"/>
<line x1="660.00" y1="935.00" x2="660.00" y2="970.00" stroke="#2a2a2a" stroke-width="1.0"/>
<line x1="713.75" y1="935.00" x2="713.75" y2="1004.00" stroke="#555" stroke-width="1.0"/>
<line x1="722.50" y1="935.00" x2="722.50" y2="1040.00" stroke="#2a2a2a" stroke-width="1.1"/>
<line x1="722.50" y1="1046.00" x2="722.50" y2="1090.00" stroke="#666666" stroke-width="1.0" stroke-dasharray="16 5"/>
<line x1="535.75" y1="931.00" x2="535.75" y2="1090.00" stroke="#999" stroke-width="1.0" stroke-dasharray="22 4 5 4"/>
<line x1="655.75" y1="931.00" x2="655.75" y2="1090.00" stroke="#999" stroke-width="1.0" stroke-dasharray="22 4 5 4"/>
<line x1="349.00" y1="1060.00" x2="349.00" y2="1090.50" stroke="#444" stroke-width="1.0"/>
<circle cx="349" cy="1106.7" r="16.3" fill="#fff" stroke="#222" stroke-width="1.25"/>
<circle cx="349" cy="1106.7" r="14.2" fill="none" stroke="#222" stroke-width="1.25"/>
<line x1="349.00" y1="1121.00" x2="349.00" y2="1125.50" stroke="#1c1c1c" stroke-width="1.1"/>
<line x1="330.00" y1="1106.70" x2="334.80" y2="1106.70" stroke="#1c1c1c" stroke-width="1.1"/>
<line x1="363.20" y1="1106.70" x2="367.70" y2="1106.70" stroke="#1c1c1c" stroke-width="1.1"/>
<text transform="translate(349.00,1112.70) rotate(0) scale(0.6162,1)" x="-5.68" y="0" font-size="16.96" fill="#4a4a4a" stroke="#4a4a4a" stroke-width="0.15">A</text>
<line x1="535.75" y1="1060.00" x2="535.75" y2="1090.50" stroke="#444" stroke-width="1.0"/>
<circle cx="535.75" cy="1106.7" r="16.3" fill="#fff" stroke="#222" stroke-width="1.25"/>
<circle cx="535.75" cy="1106.7" r="14.2" fill="none" stroke="#222" stroke-width="1.25"/>
<line x1="535.75" y1="1121.00" x2="535.75" y2="1125.50" stroke="#1c1c1c" stroke-width="1.1"/>
<line x1="516.75" y1="1106.70" x2="521.55" y2="1106.70" stroke="#1c1c1c" stroke-width="1.1"/>
<line x1="549.95" y1="1106.70" x2="554.45" y2="1106.70" stroke="#1c1c1c" stroke-width="1.1"/>
<text transform="translate(535.75,1112.70) rotate(0) scale(0.4915,1)" x="-6.10" y="0" font-size="16.96" fill="#4a4a4a" stroke="#4a4a4a" stroke-width="0.15">C</text>
<line x1="655.75" y1="1060.00" x2="655.75" y2="1090.50" stroke="#444" stroke-width="1.0"/>
<circle cx="655.75" cy="1106.7" r="16.3" fill="#fff" stroke="#222" stroke-width="1.25"/>
<circle cx="655.75" cy="1106.7" r="14.2" fill="none" stroke="#222" stroke-width="1.25"/>
<line x1="655.75" y1="1121.00" x2="655.75" y2="1125.50" stroke="#1c1c1c" stroke-width="1.1"/>
<line x1="636.75" y1="1106.70" x2="641.55" y2="1106.70" stroke="#1c1c1c" stroke-width="1.1"/>
<line x1="669.95" y1="1106.70" x2="674.45" y2="1106.70" stroke="#1c1c1c" stroke-width="1.1"/>
<text transform="translate(655.75,1112.70) rotate(0) scale(0.4966,1)" x="-5.64" y="0" font-size="16.96" fill="#4a4a4a" stroke="#4a4a4a" stroke-width="0.15">E</text>
<line x1="722.50" y1="1060.00" x2="722.50" y2="1090.50" stroke="#444" stroke-width="1.0"/>
<circle cx="722.5" cy="1106.7" r="16.3" fill="#fff" stroke="#222" stroke-width="1.25"/>
<circle cx="722.5" cy="1106.7" r="14.2" fill="none" stroke="#222" stroke-width="1.25"/>
<line x1="722.50" y1="1121.00" x2="722.50" y2="1125.50" stroke="#1c1c1c" stroke-width="1.1"/>
<line x1="703.50" y1="1106.70" x2="708.30" y2="1106.70" stroke="#1c1c1c" stroke-width="1.1"/>
<line x1="736.70" y1="1106.70" x2="741.20" y2="1106.70" stroke="#1c1c1c" stroke-width="1.1"/>
<text transform="translate(722.50,1112.70) rotate(0) scale(0.5221,1)" x="-5.17" y="0" font-size="16.96" fill="#4a4a4a" stroke="#4a4a4a" stroke-width="0.15">F</text>
<line x1="549.00" y1="179.30" x2="566.00" y2="179.30" stroke="#bbb" stroke-width="1.0"/>
<line x1="570.00" y1="179.30" x2="591.00" y2="179.30" stroke="#888" stroke-width="0.9"/>
<path d="M584.4,179.3 A35.4,35.4 0 0 1 560.5,212.8" fill="none" stroke="#1c1c1c" stroke-width="1.3"/>
<line x1="580.00" y1="173.70" x2="588.50" y2="183.70" stroke="#111" stroke-width="2.0"/>
<line x1="584.40" y1="172.50" x2="584.40" y2="181.00" stroke="#333" stroke-width="1.0"/>
<line x1="563.60" y1="206.20" x2="557.30" y2="216.90" stroke="#111" stroke-width="2.0"/>
<line x1="554.30" y1="214.50" x2="564.10" y2="209.60" stroke="#222" stroke-width="1.2"/>
<text transform="translate(572.50,195.30) rotate(-55) scale(0.5902,1)" x="-13.13" y="0" font-size="17.39" fill="#222" stroke="#222" stroke-width="0.25">71°</text>
<polygon points="880.00,157.80 896.00,157.80 888.00,172.20" fill="#fff" stroke="#111" stroke-width="2.6" stroke-linejoin="miter"/>
<text transform="translate(887.60,155.80) rotate(0) scale(0.7022,1)" x="-19.23" y="0" font-size="12.46" fill="#222" stroke="#222" stroke-width="0.3">+12.00</text>
<line x1="877.10" y1="157.00" x2="901.10" y2="157.00" stroke="#333" stroke-width="0.9"/>
<text transform="translate(888.30,145.20) rotate(0) scale(0.7017,1)" x="-41.61" y="0" font-size="14.93" fill="#333" stroke="#333" stroke-width="0.3">TOP FASAD</text>
<polygon points="880.00,281.80 896.00,281.80 888.00,296.20" fill="#fff" stroke="#111" stroke-width="2.6" stroke-linejoin="miter"/>
<text transform="translate(888.00,280.00) rotate(0) scale(0.7022,1)" x="-19.23" y="0" font-size="12.46" fill="#222" stroke="#222" stroke-width="0.3">+10.00</text>
<line x1="877.50" y1="281.20" x2="901.50" y2="281.20" stroke="#333" stroke-width="0.9"/>
<text transform="translate(887.80,269.50) rotate(0) scale(0.7278,1)" x="-36.07" y="0" font-size="15.22" fill="#222" stroke="#222" stroke-width="0.3">DAK ATAP</text>
<polygon points="880.00,480.30 896.00,480.30 888.00,494.70" fill="#fff" stroke="#111" stroke-width="2.6" stroke-linejoin="miter"/>
<text transform="translate(888.00,478.80) rotate(0) scale(0.7317,1)" x="-15.03" y="0" font-size="11.88" fill="#222" stroke="#222" stroke-width="0.3">+6.80</text>
<line x1="880.00" y1="480.00" x2="899.00" y2="480.00" stroke="#333" stroke-width="0.9"/>
<text transform="translate(888.00,468.00) rotate(0) scale(0.7965,1)" x="-13.81" y="0" font-size="15.22" fill="#222" stroke="#222" stroke-width="0.3">LT.3</text>
<polygon points="880.00,690.55 896.00,690.55 888.00,704.95" fill="#fff" stroke="#111" stroke-width="2.6" stroke-linejoin="miter"/>
<text transform="translate(888.00,689.60) rotate(0) scale(0.7500,1)" x="-14.67" y="0" font-size="11.59" fill="#222" stroke="#222" stroke-width="0.3">+3.40</text>
<line x1="880.00" y1="690.80" x2="899.00" y2="690.80" stroke="#333" stroke-width="0.9"/>
<text transform="translate(888.00,679.50) rotate(0) scale(0.7528,1)" x="-15.94" y="0" font-size="15.22" fill="#222" stroke="#222" stroke-width="0.3">LT. 2</text>
<polygon points="880.00,901.80 896.00,901.80 888.00,916.20" fill="#fff" stroke="#111" stroke-width="2.6" stroke-linejoin="miter"/>
<text transform="translate(888.00,900.50) rotate(0) scale(0.7605,1)" x="-14.46" y="0" font-size="11.59" fill="#222" stroke="#222" stroke-width="0.3">±0.00</text>
<line x1="880.00" y1="901.70" x2="899.00" y2="901.70" stroke="#333" stroke-width="0.9"/>
<text transform="translate(888.00,890.00) rotate(0) scale(0.7104,1)" x="-15.48" y="0" font-size="14.78" fill="#222" stroke="#222" stroke-width="0.3">LT. 1</text>
<polygon points="880.00,946.00 896.00,946.00 888.00,931.60" fill="#fff" stroke="#111" stroke-width="2.6" stroke-linejoin="miter"/>
<text transform="translate(888.00,955.00) rotate(0) scale(0.8536,1)" x="-12.89" y="0" font-size="11.30" fill="#222" stroke="#222" stroke-width="0.3">-0.20</text>
<polygon points="559.70,158.00 575.90,158.00 567.80,171.40" fill="#fff" stroke="#111" stroke-width="2.6" stroke-linejoin="miter"/>
<text transform="translate(567.65,156.20) rotate(0) scale(0.6944,1)" x="-19.23" y="0" font-size="12.46" fill="#222" stroke="#222" stroke-width="0.3">+12.00</text>
<line x1="557.30" y1="157.40" x2="581.00" y2="157.40" stroke="#333" stroke-width="0.9"/>
<polygon points="639.90,269.70 656.10,269.70 648.00,283.10" fill="#fff" stroke="#111" stroke-width="2.6" stroke-linejoin="miter"/>
<text transform="translate(647.75,268.00) rotate(0) scale(0.7152,1)" x="-19.23" y="0" font-size="12.46" fill="#222" stroke="#222" stroke-width="0.3">+10.20</text>
<line x1="637.00" y1="269.20" x2="661.50" y2="269.20" stroke="#333" stroke-width="0.9"/>
<polygon points="685.40,581.20 701.00,581.20 693.20,593.20" fill="#fff" stroke="#111" stroke-width="2.6" stroke-linejoin="miter"/>
<text transform="translate(692.90,578.80) rotate(0) scale(0.7548,1)" x="-15.77" y="0" font-size="12.46" fill="#222" stroke="#222" stroke-width="0.3">+5.20</text>
<line x1="684.00" y1="580.00" x2="704.80" y2="580.00" stroke="#333" stroke-width="0.9"/>
<polygon points="676.90,731.00 692.50,731.00 684.70,745.20" fill="#fff" stroke="#111" stroke-width="2.6" stroke-linejoin="miter"/>
<text transform="translate(684.75,729.80) rotate(0) scale(0.7859,1)" x="-13.93" y="0" font-size="11.01" fill="#222" stroke="#222" stroke-width="0.3">+2.75</text>
<line x1="676.80" y1="731.00" x2="695.70" y2="731.00" stroke="#333" stroke-width="0.9"/>
<circle cx="410.8" cy="570" r="12.4" fill="#fff" stroke="#1a1a1a" stroke-width="1.5"/>
<text transform="translate(410.80,574.60) rotate(0) scale(0.7820,1)" x="-7.03" y="0" font-size="13.33" fill="#3a3a3a" stroke="#3a3a3a" stroke-width="0.25">J3</text>
<circle cx="687.25" cy="397.5" r="12.4" fill="#fff" stroke="#1a1a1a" stroke-width="1.5"/>
<text transform="translate(687.25,402.10) rotate(0) scale(0.7820,1)" x="-7.03" y="0" font-size="13.33" fill="#3a3a3a" stroke="#3a3a3a" stroke-width="0.25">J9</text>
<circle cx="507.25" cy="648.75" r="12.4" fill="#fff" stroke="#1a1a1a" stroke-width="1.5"/>
<text transform="translate(507.25,653.35) rotate(0) scale(0.7820,1)" x="-7.03" y="0" font-size="13.33" fill="#3a3a3a" stroke="#3a3a3a" stroke-width="0.25">J4</text>
<circle cx="587.75" cy="648.75" r="12.4" fill="#fff" stroke="#1a1a1a" stroke-width="1.5"/>
<text transform="translate(587.75,653.35) rotate(0) scale(0.7820,1)" x="-7.03" y="0" font-size="13.33" fill="#3a3a3a" stroke="#3a3a3a" stroke-width="0.25">J5</text>
<circle cx="620.5" cy="633" r="12.4" fill="#fff" stroke="#1a1a1a" stroke-width="1.5"/>
<text transform="translate(620.50,637.60) rotate(0) scale(0.7820,1)" x="-7.03" y="0" font-size="13.33" fill="#3a3a3a" stroke="#3a3a3a" stroke-width="0.25">J6</text>
<circle cx="668" cy="648.75" r="12.4" fill="#fff" stroke="#1a1a1a" stroke-width="1.5"/>
<text transform="translate(668.00,653.35) rotate(0) scale(0.7820,1)" x="-7.03" y="0" font-size="13.33" fill="#3a3a3a" stroke="#3a3a3a" stroke-width="0.25">J7</text>
<circle cx="688.4" cy="837.3" r="12.4" fill="#fff" stroke="#1a1a1a" stroke-width="1.5"/>
<text transform="translate(688.40,841.90) rotate(0) scale(0.7820,1)" x="-7.03" y="0" font-size="13.33" fill="#3a3a3a" stroke="#3a3a3a" stroke-width="0.25">J1</text>
<polygon points="336.00,365.85 370.00,365.85 353.00,336.55" fill="#fff" stroke="#111" stroke-width="1.7" stroke-linejoin="miter"/>
<text transform="translate(353.00,360.15) rotate(0) scale(0.6655,1)" x="-13.15" y="0" font-size="13.91" fill="#333" stroke="#333" stroke-width="0.3">PP3</text>
<polygon points="391.00,413.35 425.00,413.35 408.00,384.05" fill="#fff" stroke="#111" stroke-width="1.7" stroke-linejoin="miter"/>
<text transform="translate(408.00,407.65) rotate(0) scale(0.6655,1)" x="-13.15" y="0" font-size="13.91" fill="#333" stroke="#333" stroke-width="0.3">PP5</text>
<polygon points="527.00,396.60 561.00,396.60 544.00,367.30" fill="#fff" stroke="#111" stroke-width="1.7" stroke-linejoin="miter"/>
<text transform="translate(544.00,390.90) rotate(0) scale(0.6085,1)" x="-13.15" y="0" font-size="13.91" fill="#333" stroke="#333" stroke-width="0.3">RF1</text>
<polygon points="611.50,365.10 645.50,365.10 628.50,335.80" fill="#fff" stroke="#111" stroke-width="1.7" stroke-linejoin="miter"/>
<text transform="translate(628.50,359.40) rotate(0) scale(0.6655,1)" x="-13.15" y="0" font-size="13.91" fill="#333" stroke="#333" stroke-width="0.3">PP3</text>
<polygon points="681.00,316.60 715.00,316.60 698.00,287.30" fill="#fff" stroke="#111" stroke-width="1.7" stroke-linejoin="miter"/>
<text transform="translate(698.00,310.90) rotate(0) scale(0.6655,1)" x="-13.15" y="0" font-size="13.91" fill="#333" stroke="#333" stroke-width="0.3">PP2</text>
<polygon points="681.00,549.10 715.00,549.10 698.00,519.80" fill="#fff" stroke="#111" stroke-width="1.7" stroke-linejoin="miter"/>
<text transform="translate(698.00,543.40) rotate(0) scale(0.6655,1)" x="-13.15" y="0" font-size="13.91" fill="#333" stroke="#333" stroke-width="0.3">PP2</text>
<polygon points="681.00,660.35 715.00,660.35 698.00,631.05" fill="#fff" stroke="#111" stroke-width="1.7" stroke-linejoin="miter"/>
<text transform="translate(698.00,654.65) rotate(0) scale(0.6655,1)" x="-13.15" y="0" font-size="13.91" fill="#333" stroke="#333" stroke-width="0.3">PP2</text>
<polygon points="336.75,633.35 370.75,633.35 353.75,604.05" fill="#fff" stroke="#111" stroke-width="1.7" stroke-linejoin="miter"/>
<text transform="translate(353.75,627.65) rotate(0) scale(0.6655,1)" x="-13.15" y="0" font-size="13.91" fill="#333" stroke="#333" stroke-width="0.3">PP2</text>
<polygon points="408.00,633.35 442.00,633.35 425.00,604.05" fill="#fff" stroke="#111" stroke-width="1.7" stroke-linejoin="miter"/>
<text transform="translate(425.00,627.65) rotate(0) scale(0.6655,1)" x="-13.15" y="0" font-size="13.91" fill="#333" stroke="#333" stroke-width="0.3">PP2</text>
<polygon points="437.25,662.10 471.25,662.10 454.25,632.80" fill="#fff" stroke="#111" stroke-width="1.7" stroke-linejoin="miter"/>
<text transform="translate(454.25,656.40) rotate(0) scale(0.6655,1)" x="-13.15" y="0" font-size="13.91" fill="#333" stroke="#333" stroke-width="0.3">PP5</text>
<polygon points="391.00,710.85 425.00,710.85 408.00,681.55" fill="#fff" stroke="#111" stroke-width="1.7" stroke-linejoin="miter"/>
<text transform="translate(408.00,705.15) rotate(0) scale(0.6655,1)" x="-13.15" y="0" font-size="13.91" fill="#333" stroke="#333" stroke-width="0.3">PP3</text>
<polygon points="531.50,661.60 565.50,661.60 548.50,632.30" fill="#fff" stroke="#111" stroke-width="1.7" stroke-linejoin="miter"/>
<text transform="translate(548.50,655.90) rotate(0) scale(0.6655,1)" x="-13.15" y="0" font-size="13.91" fill="#333" stroke="#333" stroke-width="0.3">PP5</text>
<polygon points="622.75,661.60 656.75,661.60 639.75,632.30" fill="#fff" stroke="#111" stroke-width="1.7" stroke-linejoin="miter"/>
<text transform="translate(639.75,655.90) rotate(0) scale(0.6655,1)" x="-13.15" y="0" font-size="13.91" fill="#333" stroke="#333" stroke-width="0.3">PP5</text>
<polygon points="589.00,685.35 623.00,685.35 606.00,656.05" fill="#fff" stroke="#111" stroke-width="1.7" stroke-linejoin="miter"/>
<text transform="translate(606.00,679.65) rotate(0) scale(0.6655,1)" x="-13.15" y="0" font-size="13.91" fill="#333" stroke="#333" stroke-width="0.3">PP5</text>
<polygon points="552.70,744.50 586.70,744.50 569.70,715.20" fill="#fff" stroke="#111" stroke-width="1.7" stroke-linejoin="miter"/>
<text transform="translate(569.70,738.80) rotate(0) scale(0.6085,1)" x="-13.15" y="0" font-size="13.91" fill="#333" stroke="#333" stroke-width="0.3">RF1</text>
<polygon points="335.10,830.40 369.10,830.40 352.10,801.10" fill="#fff" stroke="#111" stroke-width="1.7" stroke-linejoin="miter"/>
<text transform="translate(352.10,824.70) rotate(0) scale(0.5913,1)" x="-13.53" y="0" font-size="13.91" fill="#333" stroke="#333" stroke-width="0.3">BET</text>
<polygon points="355.80,861.70 389.80,861.70 372.80,832.40" fill="#fff" stroke="#111" stroke-width="1.7" stroke-linejoin="miter"/>
<text transform="translate(372.80,856.00) rotate(0) scale(0.6267,1)" x="-12.77" y="0" font-size="13.91" fill="#333" stroke="#333" stroke-width="0.3">ST2</text>
<polygon points="527.50,861.10 561.50,861.10 544.50,831.80" fill="#fff" stroke="#111" stroke-width="1.7" stroke-linejoin="miter"/>
<text transform="translate(544.50,855.40) rotate(0) scale(0.6267,1)" x="-12.77" y="0" font-size="13.91" fill="#333" stroke="#333" stroke-width="0.3">ST2</text>
<polygon points="700.60,867.60 734.60,867.60 717.60,838.30" fill="#fff" stroke="#111" stroke-width="1.7" stroke-linejoin="miter"/>
<text transform="translate(717.60,861.90) rotate(0) scale(0.6655,1)" x="-13.15" y="0" font-size="13.91" fill="#333" stroke="#333" stroke-width="0.3">PP5</text>
<polygon points="672.00,901.00 706.00,901.00 689.00,871.70" fill="#fff" stroke="#111" stroke-width="1.7" stroke-linejoin="miter"/>
<text transform="translate(689.00,895.30) rotate(0) scale(0.6655,1)" x="-13.15" y="0" font-size="13.91" fill="#333" stroke="#333" stroke-width="0.3">PP3</text>
<text transform="translate(535.75,63.80) rotate(0) scale(0.7554,1)" x="-18.86" y="0" font-size="16.96" fill="#2c2c2c" stroke="#2c2c2c" stroke-width="0.45">6000</text>
<text transform="translate(446.00,98.00) rotate(0) scale(0.6446,1)" x="-18.23" y="0" font-size="16.96" fill="#2c2c2c" stroke="#2c2c2c" stroke-width="0.45">3110</text>
<text transform="translate(632.50,98.00) rotate(0) scale(0.7421,1)" x="-18.86" y="0" font-size="16.96" fill="#2c2c2c" stroke="#2c2c2c" stroke-width="0.45">2890</text>
<text transform="translate(353.75,132.30) rotate(0) scale(0.6180,1)" x="-14.16" y="0" font-size="16.96" fill="#2c2c2c" stroke="#2c2c2c" stroke-width="0.45">150</text>
<text transform="translate(450.75,132.30) rotate(0) scale(0.7289,1)" x="-18.86" y="0" font-size="16.96" fill="#2c2c2c" stroke="#2c2c2c" stroke-width="0.45">2960</text>
<text transform="translate(601.75,132.30) rotate(0) scale(0.6706,1)" x="-18.86" y="0" font-size="16.96" fill="#2c2c2c" stroke="#2c2c2c" stroke-width="0.45">1890</text>
<text transform="translate(687.00,132.30) rotate(0) scale(0.7345,1)" x="-14.16" y="0" font-size="16.96" fill="#2c2c2c" stroke="#2c2c2c" stroke-width="0.45">850</text>
<text transform="translate(718.25,132.30) rotate(0) scale(0.6357,1)" x="-14.16" y="0" font-size="16.96" fill="#2c2c2c" stroke="#2c2c2c" stroke-width="0.45">150</text>
<text transform="translate(373.75,958.00) rotate(0) scale(0.7698,1)" x="-14.16" y="0" font-size="16.96" fill="#2c2c2c" stroke="#2c2c2c" stroke-width="0.45">500</text>
<text transform="translate(433.25,958.00) rotate(0) scale(0.6971,1)" x="-18.86" y="0" font-size="16.96" fill="#2c2c2c" stroke="#2c2c2c" stroke-width="0.45">1400</text>
<text transform="translate(568.75,958.00) rotate(0) scale(0.7421,1)" x="-18.86" y="0" font-size="16.96" fill="#2c2c2c" stroke="#2c2c2c" stroke-width="0.45">2950</text>
<text transform="translate(687.00,958.00) rotate(0) scale(0.7345,1)" x="-14.16" y="0" font-size="16.96" fill="#2c2c2c" stroke="#2c2c2c" stroke-width="0.45">850</text>
<text transform="translate(353.75,991.80) rotate(0) scale(0.6180,1)" x="-14.16" y="0" font-size="16.96" fill="#2c2c2c" stroke="#2c2c2c" stroke-width="0.45">150</text>
<text transform="translate(535.75,991.80) rotate(0) scale(0.7421,1)" x="-18.86" y="0" font-size="16.96" fill="#2c2c2c" stroke="#2c2c2c" stroke-width="0.45">5700</text>
<text transform="translate(718.25,991.80) rotate(0) scale(0.6357,1)" x="-14.16" y="0" font-size="16.96" fill="#2c2c2c" stroke="#2c2c2c" stroke-width="0.45">150</text>
<text transform="translate(535.75,1026.00) rotate(0) scale(0.7554,1)" x="-18.86" y="0" font-size="16.96" fill="#2c2c2c" stroke="#2c2c2c" stroke-width="0.45">6000</text>
<text transform="translate(442.50,1059.80) rotate(0) scale(0.7687,1)" x="-18.86" y="0" font-size="16.96" fill="#2c2c2c" stroke="#2c2c2c" stroke-width="0.45">3000</text>
<text transform="translate(595.75,1059.80) rotate(0) scale(0.6759,1)" x="-18.86" y="0" font-size="16.96" fill="#2c2c2c" stroke="#2c2c2c" stroke-width="0.45">1925</text>
<text transform="translate(689.50,1059.80) rotate(0) scale(0.6626,1)" x="-18.86" y="0" font-size="16.96" fill="#2c2c2c" stroke="#2c2c2c" stroke-width="0.45">1075</text>
<text transform="translate(308.60,247.00) rotate(-90) scale(0.7304,1)" x="-19.51" y="0" font-size="17.54" fill="#2c2c2c" stroke="#2c2c2c" stroke-width="0.45">2400</text>
<text transform="translate(308.60,458.00) rotate(-90) scale(0.7304,1)" x="-19.51" y="0" font-size="17.54" fill="#2c2c2c" stroke="#2c2c2c" stroke-width="0.45">4400</text>
<text transform="translate(308.60,624.40) rotate(-90) scale(0.6932,1)" x="-14.64" y="0" font-size="17.54" fill="#2c2c2c" stroke="#2c2c2c" stroke-width="0.45">950</text>
<text transform="translate(308.60,711.25) rotate(-90) scale(0.6407,1)" x="-19.51" y="0" font-size="17.54" fill="#2c2c2c" stroke="#2c2c2c" stroke-width="0.45">1850</text>
<text transform="translate(308.60,842.50) rotate(-90) scale(0.7304,1)" x="-19.51" y="0" font-size="17.54" fill="#2c2c2c" stroke="#2c2c2c" stroke-width="0.45">2400</text>
<text transform="translate(274.40,413.00) rotate(-90) scale(0.6740,1)" x="-19.51" y="0" font-size="17.54" fill="#2c2c2c" stroke="#2c2c2c" stroke-width="0.45">7750</text>
<text transform="translate(274.40,785.00) rotate(-90) scale(0.7432,1)" x="-19.51" y="0" font-size="17.54" fill="#2c2c2c" stroke="#2c2c2c" stroke-width="0.45">4250</text>
<text transform="translate(239.80,544.60) rotate(-90) scale(0.6974,1)" x="-24.38" y="0" font-size="17.54" fill="#2c2c2c" stroke="#2c2c2c" stroke-width="0.45">12000</text>
<text transform="translate(239.20,923.50) rotate(-90) scale(0.7171,1)" x="-14.64" y="0" font-size="17.54" fill="#2c2c2c" stroke="#2c2c2c" stroke-width="0.45">200</text>
<text transform="translate(750.50,228.00) rotate(-90) scale(0.6100,1)" x="-19.51" y="0" font-size="17.54" fill="#2c2c2c" stroke="#2c2c2c" stroke-width="0.45">1800</text>
<text transform="translate(750.50,303.00) rotate(-90) scale(0.7273,1)" x="-14.64" y="0" font-size="17.54" fill="#2c2c2c" stroke="#2c2c2c" stroke-width="0.45">600</text>
<text transform="translate(750.50,408.00) rotate(-90) scale(0.7304,1)" x="-19.51" y="0" font-size="17.54" fill="#2c2c2c" stroke="#2c2c2c" stroke-width="0.45">2800</text>
<text transform="translate(750.50,545.00) rotate(-90) scale(0.6407,1)" x="-19.51" y="0" font-size="17.54" fill="#2c2c2c" stroke="#2c2c2c" stroke-width="0.45">1600</text>
<text transform="translate(750.50,650.00) rotate(-90) scale(0.6151,1)" x="-19.51" y="0" font-size="17.54" fill="#2c2c2c" stroke="#2c2c2c" stroke-width="0.45">1800</text>
<text transform="translate(750.50,736.75) rotate(-90) scale(0.6484,1)" x="-19.51" y="0" font-size="17.54" fill="#2c2c2c" stroke="#2c2c2c" stroke-width="0.45">1000</text>
<text transform="translate(750.50,843.00) rotate(-90) scale(0.7048,1)" x="-19.51" y="0" font-size="17.54" fill="#2c2c2c" stroke="#2c2c2c" stroke-width="0.45">2400</text>
<text transform="translate(785.50,334.00) rotate(-90) scale(0.7176,1)" x="-19.51" y="0" font-size="17.54" fill="#2c2c2c" stroke="#2c2c2c" stroke-width="0.45">5200</text>
<text transform="translate(785.50,706.00) rotate(-90) scale(0.7048,1)" x="-19.51" y="0" font-size="17.54" fill="#2c2c2c" stroke="#2c2c2c" stroke-width="0.45">6800</text>
<text transform="translate(819.30,544.50) rotate(-90) scale(0.6933,1)" x="-24.38" y="0" font-size="17.54" fill="#2c2c2c" stroke="#2c2c2c" stroke-width="0.45">12000</text>
<text transform="translate(818.00,923.75) rotate(-90) scale(0.7102,1)" x="-14.64" y="0" font-size="17.54" fill="#2c2c2c" stroke="#2c2c2c" stroke-width="0.45">200</text>
<text transform="translate(865.70,234.75) rotate(-90) scale(0.6920,1)" x="-19.51" y="0" font-size="17.54" fill="#2c2c2c" stroke="#2c2c2c" stroke-width="0.45">2000</text>
<text transform="translate(865.70,396.00) rotate(-90) scale(0.7253,1)" x="-19.51" y="0" font-size="17.54" fill="#2c2c2c" stroke="#2c2c2c" stroke-width="0.45">3200</text>
<text transform="translate(865.70,600.50) rotate(-90) scale(0.7048,1)" x="-19.51" y="0" font-size="17.54" fill="#2c2c2c" stroke="#2c2c2c" stroke-width="0.45">3400</text>
<text transform="translate(865.70,812.00) rotate(-90) scale(0.7381,1)" x="-19.51" y="0" font-size="17.54" fill="#2c2c2c" stroke="#2c2c2c" stroke-width="0.45">3400</text>
<text transform="translate(866.00,923.75) rotate(-90) scale(0.7102,1)" x="-14.64" y="0" font-size="17.54" fill="#2c2c2c" stroke="#2c2c2c" stroke-width="0.45">200</text>
<text transform="translate(85.62,270.50) rotate(0) scale(0.6877,1)" x="-48.17" y="0" font-size="13.33" fill="#222" stroke="#222" stroke-width="0.3">ATAP BITUMEN</text>
<text transform="translate(126.75,285.75) rotate(0) scale(0.6519,1)" x="-113.89" y="0" font-size="13.62" fill="#222" stroke="#222" stroke-width="0.3">+SUPPORT RANGKA BAJA RINGAN</text>
<text transform="translate(105.00,714.00) rotate(0) scale(0.6760,1)" x="-77.67" y="0" font-size="13.33" fill="#222" stroke="#222" stroke-width="0.3">CANOPY ATAP BITUMEN</text>
<text transform="translate(127.50,730.50) rotate(0) scale(0.6479,1)" x="-115.76" y="0" font-size="13.62" fill="#222" stroke="#222" stroke-width="0.3">+ SUPPORT RANGKA BAJA RINGAN</text>
<text transform="translate(938.25,341.20) rotate(0) scale(0.7094,1)" x="-54.62" y="0" font-size="12.46" fill="#222" stroke="#222" stroke-width="0.3">TALI AIR 10X10MM</text>
<text transform="translate(938.25,613.80) rotate(0) scale(0.7351,1)" x="-52.72" y="0" font-size="12.03" fill="#222" stroke="#222" stroke-width="0.3">TALI AIR 10X10MM</text>
</g>
</svg>
</body></html>
